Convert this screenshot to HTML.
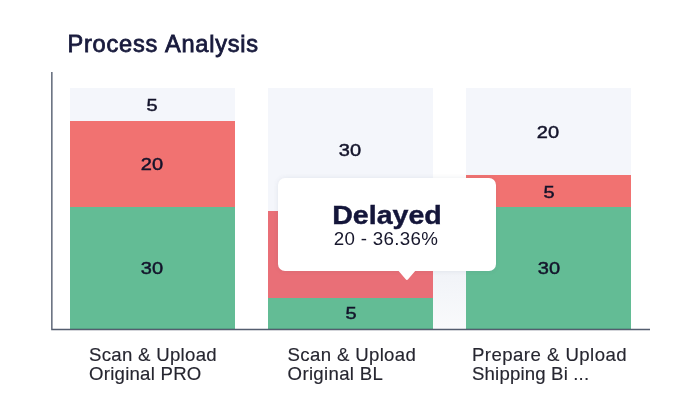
<!DOCTYPE html>
<html lang="en">
<head>
<meta charset="utf-8">
<title>Process Analysis</title>
<style>
  html, body { margin: 0; padding: 0; }
  body { width: 700px; height: 411px; background: #ffffff; position: relative; overflow: hidden;
         font-family: "Liberation Sans", sans-serif; color: #1b1b3a; }
  .title { position: absolute; left: 67.5px; top: 29px; font-size: 23.6px; line-height: 30px; font-weight: 400;
           color: #181a3c; white-space: nowrap; letter-spacing: 0.75px; word-spacing: 1px; -webkit-text-stroke: 0.8px #181a3c; }
  .axes { position: absolute; left: 0; top: 0; }
  .bar { position: absolute; top: 88px; width: 165px; height: 240.6px; background: #f4f6fb; }
  .seg { position: absolute; left: 0; right: 0; }
  .red { background: #f17271; }
  .red2 { background: #e96f77; }
  .green { background: #63bc95; }
  .num { position: absolute; width: 60px; margin-left: -30px; text-align: center; font-size: 17.1px; line-height: 20px;
         color: #13132a; -webkit-text-stroke: 0.45px #13132a; white-space: nowrap; transform: scaleX(1.17); transform-origin: 50% 50%; }
  .label { position: absolute; top: 344.6px; font-size: 18.6px; line-height: 19.4px; color: #262630; white-space: nowrap; -webkit-text-stroke: 0.15px #262630; }
  .label span { display: block; }
  .gapshade { position: absolute; left: 433px; top: 265px; width: 33.4px; height: 63.6px; background: linear-gradient(to bottom, #f0f2f7 0%, #f4f6f9 45%, #f9fafc 100%); }
  .tip { position: absolute; left: 278px; top: 178px; width: 218px; height: 93px; background: #ffffff; border-radius: 7px;
         box-shadow: 0 0 5px rgba(70,80,110,0.10); }
  .tip svg { position: absolute; left: 0; top: 0; overflow: visible; }
  .tip-title { position: absolute; left: 0; right: 0; top: 22px; text-align: center; font-size: 26px; line-height: 30px; font-weight: 700;
         color: #14163a; letter-spacing: 0; white-space: nowrap; transform: scaleX(1.10); transform-origin: 50% 50%; -webkit-text-stroke: 0.4px #14163a; }
  .tip-sub { position: absolute; left: -1px; right: 1px; top: 51px; text-align: center; font-size: 17.6px; line-height: 20px;
         color: #17172c; letter-spacing: 0.3px; white-space: nowrap; transform: scaleX(1.065); transform-origin: 50% 50%; }
</style>
</head>
<body>
  <div class="title">Process Analysis</div>


  <div class="bar" style="left:69.8px;">
    <div class="seg red" style="top:32.8px; height:86.6px;"></div>
    <div class="seg green" style="top:119.2px; bottom:0;"></div>
  </div>
  <div class="bar" style="left:267.8px;">
    <div class="seg red2" style="top:123px; height:87px;"></div>
    <div class="seg green" style="top:209.6px; bottom:0;"></div>
  </div>
  <div class="bar" style="left:466.2px;">
    <div class="seg red" style="top:87px; height:32.4px;"></div>
    <div class="seg green" style="top:119.2px; bottom:0;"></div>
  </div>
  <div class="gapshade"></div>
  <svg class="axes" width="700" height="411" viewBox="0 0 700 411"><path d="M51.85,72 L51.85,329.5 L650,329.5" fill="none" stroke="#364156" stroke-opacity="0.85" stroke-width="1.4"/></svg>

  <div class="num" style="left:151.5px; top:96px;">5</div>
  <div class="num" style="left:151.65px; top:154.6px;">20</div>
  <div class="num" style="left:151.65px; top:259px;">30</div>

  <div class="num" style="left:350.2px; top:141.2px;">30</div>
  <div class="num" style="left:351px; top:303.8px;">5</div>

  <div class="num" style="left:547.85px; top:123px;">20</div>
  <div class="num" style="left:548.9px; top:182.5px;">5</div>
  <div class="num" style="left:548.65px; top:259px;">30</div>

  <div class="label" style="left:89px;"><span style="letter-spacing:0.3px">Scan &amp; Upload</span><span style="letter-spacing:0.25px">Original PRO</span></div>
  <div class="label" style="left:287.6px;"><span style="letter-spacing:0.35px">Scan &amp; Upload</span><span style="letter-spacing:0.33px">Original BL</span></div>
  <div class="label" style="left:472px;"><span style="letter-spacing:0.45px">Prepare &amp; Upload</span><span style="letter-spacing:0.17px">Shipping Bi ...</span></div>

  <div class="tip">
    <svg width="218" height="105" viewBox="0 0 218 105"><path d="M120.2,92.5 L137.6,92.5 L130.3,101 Q128.9,102.8 127.5,101 Z" fill="#ffffff"/></svg>
    <div class="tip-title">Delayed</div>
    <div class="tip-sub">20 - 36.36%</div>
  </div>
</body>
</html>
